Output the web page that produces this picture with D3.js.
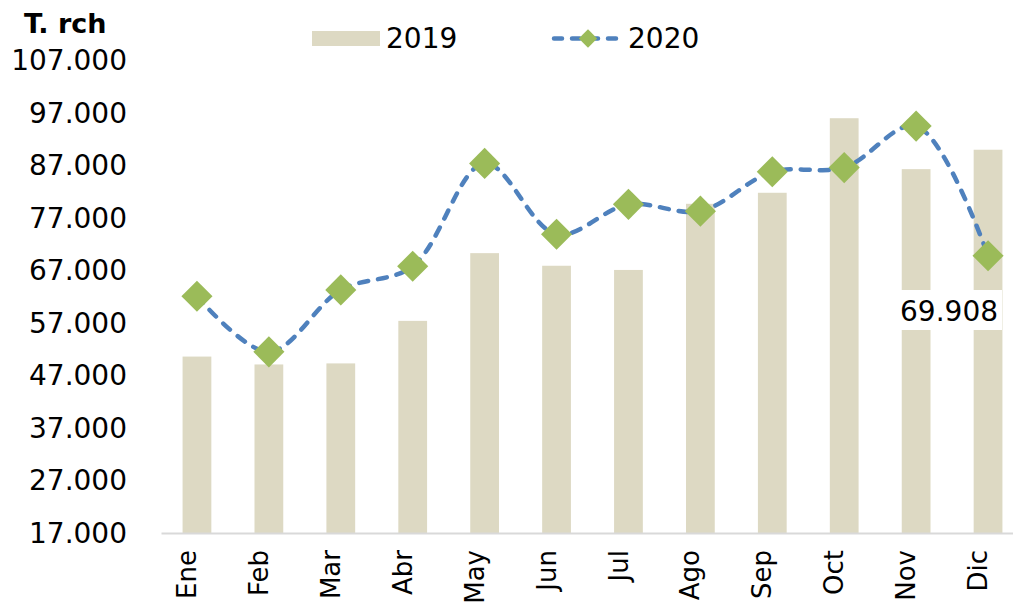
<!DOCTYPE html>
<html><head><meta charset="utf-8">
<script src="https://cdn.jsdelivr.net/npm/d3@7"></script>
<style>
html,body{margin:0;padding:0;background:#fff;overflow:hidden}
svg{display:block;font-family:"DejaVu Sans",sans-serif}
</style></head>
<body>
<svg id="c" width="1013" height="602"></svg>
<script>
const months = ["Ene","Feb","Mar","Abr","May","Jun","Jul","Ago","Sep","Oct","Nov","Dic"];
const values2019 = [50700,49200,49400,57500,70400,68000,67200,79800,81900,96100,86400,90100];
const values2020 = [62200,51600,63400,67900,87500,74000,79700,78400,85900,86700,94600,69908];
const yTicks = [17000,27000,37000,47000,57000,67000,77000,87000,97000,107000];
const seriesNames = ["2019","2020"];
const labelIndex = 11;

const svg = d3.select("#c");
const x = d3.scaleBand().domain(months).range([161,1024]).paddingInner(0.6).paddingOuter(0.3);
const y = d3.scaleLinear().domain([17000,107000]).range([533.5,61]);
const fmt = v => d3.format(",")(v).replace(/,/g,".");

// bars
svg.append("g").selectAll("rect").data(values2019).join("rect")
  .attr("x",(d,i)=>x(months[i])).attr("width",x.bandwidth())
  .attr("y",d=>y(d)).attr("height",d=>y(17000)-y(d))
  .attr("fill","#ddd9c3");

// x axis
const xAxis = svg.append("g").attr("transform","translate(0,533)")
  .call(d3.axisBottom(x).tickSize(0).tickPadding(0));
xAxis.select(".domain").attr("stroke","#d9d9d9").attr("stroke-width",2);
xAxis.selectAll("text").attr("font-size",26).attr("fill","#000")
  .attr("font-family","DejaVu Sans").attr("text-anchor","end")
  .attr("transform","translate(-10,17) rotate(-90)").attr("dy","0.35em").attr("x",0).attr("y",0);

// y axis
const yAxis = svg.append("g").attr("transform","translate(127,0)")
  .call(d3.axisLeft(y).tickValues(yTicks).tickSize(0).tickPadding(0).tickFormat(fmt));
yAxis.select(".domain").remove();
yAxis.selectAll("text").attr("font-size",28).attr("fill","#000").attr("font-family","DejaVu Sans");

// line
const cx = i => x(months[i]) + x.bandwidth()/2;
const line = d3.line().x((d,i)=>cx(i)).y(d=>y(d)).curve(d3.curveCatmullRom.alpha(0.5));
svg.append("path").datum(values2020).attr("d",line).attr("fill","none")
  .attr("stroke","#4f81bd").attr("stroke-width",4.5).attr("stroke-linecap","round")
  .attr("stroke-dasharray","9,10");

const diamond = d3.symbol().type(d3.symbolSquare).size(22*22);
svg.append("g").selectAll("path").data(values2020).join("path")
  .attr("d",diamond).attr("fill","#9bbb59")
  .attr("transform",(d,i)=>`translate(${cx(i)},${y(d)}) rotate(45)`);

// data label
const lg = svg.append("g");
const lt = lg.append("text").attr("x",cx(labelIndex)-39).attr("y",321)
  .attr("text-anchor","middle").attr("font-size",28).attr("fill","#000")
  .text(fmt(values2020[labelIndex]));
const bb = lt.node().getBBox();
lg.insert("rect","text").attr("x",bb.x-4).attr("y",290).attr("width",bb.width+8).attr("height",40).attr("fill","#fff");

// title
svg.append("text").attr("x",24).attr("y",33).attr("font-size",27).attr("font-weight","bold")
  .attr("fill","#000").text("T. rch");

// legend
svg.append("rect").attr("x",312).attr("y",31).attr("width",68).attr("height",15).attr("fill","#ddd9c3");
svg.append("text").attr("x",386).attr("y",48).attr("font-size",28).attr("fill","#000").text(seriesNames[0]);
svg.append("line").attr("x1",554).attr("x2",622).attr("y1",38.5).attr("y2",38.5)
  .attr("stroke","#4f81bd").attr("stroke-width",4.5).attr("stroke-linecap","round").attr("stroke-dasharray","8,10");
svg.append("path").attr("d",d3.symbol().type(d3.symbolSquare).size(13*13)).attr("fill","#9bbb59")
  .attr("transform","translate(588,38.5) rotate(45)");
svg.append("text").attr("x",628).attr("y",48).attr("font-size",28).attr("fill","#000").text(seriesNames[1]);
</script>
</body></html>
